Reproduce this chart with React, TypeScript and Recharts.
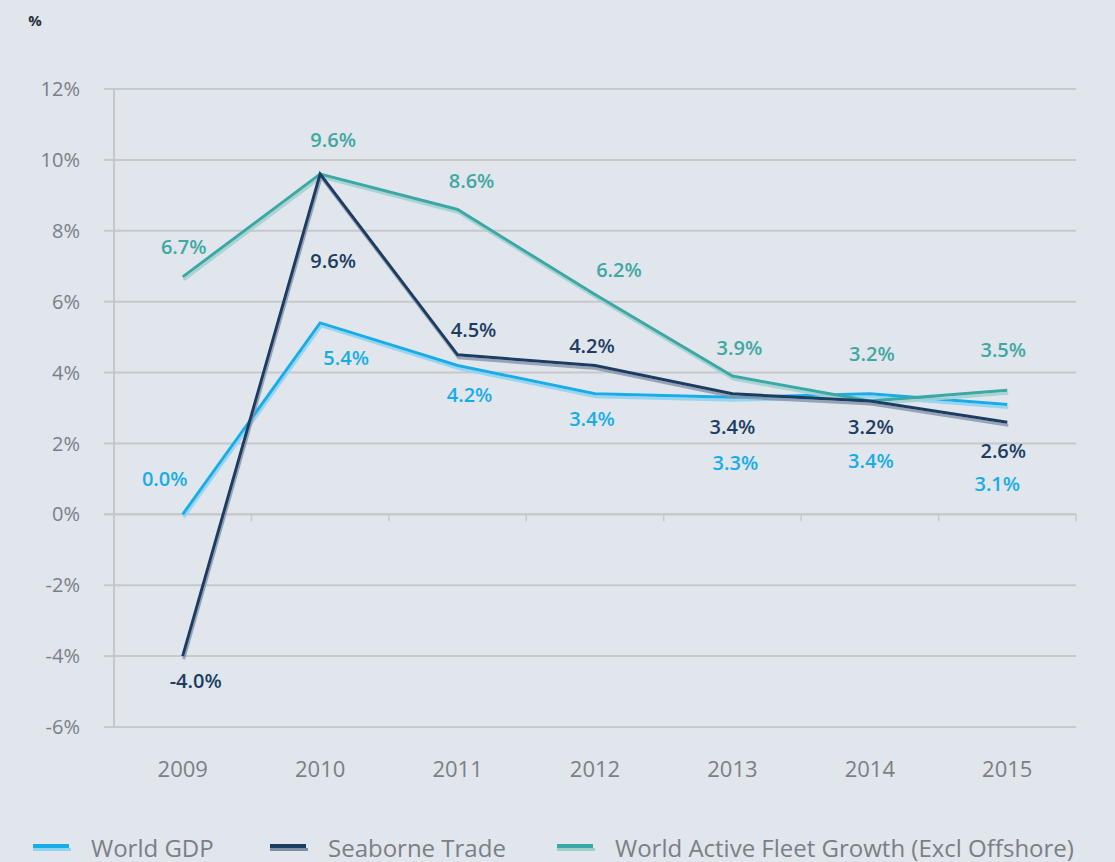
import React from 'react';
import { LineChart, Line, XAxis, YAxis, CartesianGrid, ReferenceLine, Legend } from 'recharts';

// values (% growth)
const years = ['2009', '2010', '2011', '2012', '2013', '2014', '2015'];
const worldGdp = [0.0, 5.4, 4.2, 3.4, 3.3, 3.4, 3.1];
const seaborneTrade = [-4.0, 9.6, 4.5, 4.2, 3.4, 3.2, 2.6];
const fleetGrowth = [6.7, 9.6, 8.6, 6.2, 3.9, 3.2, 3.5];
const yTicks = [-6, -4, -2, 0, 2, 4, 6, 8, 10, 12];

// label nudges (px) so the value labels sit like the original
const gdpLabelOffsets = [[-18, -36], [26, 35], [12, 29], [-3, 25], [3, 65], [1, 67], [-10, 79]];
const tradeLabelOffsets = [[13, 24], [13, 86], [16, -25], [-3, -20], [0, 33], [1, 26], [-4, 28]];
const fleetLabelOffsets = [[1, -30], [13, -35], [14, -29], [24, -25], [7, -29], [2, -47], [-4, -41]];

const data = years.map((year, i) => ({
  year,
  gdp: worldGdp[i],
  trade: seaborneTrade[i],
  fleet: fleetGrowth[i],
}));

const FONT = '"Open Sans", "DejaVu Sans", sans-serif';
const GDP_COLOR = '#17ade8';
const TRADE_COLOR = '#1c3d63';
const FLEET_COLOR = '#3aa8a6';
const GRID_COLOR = '#c6c8cb';
const TEXT_GREY = '#7b7f86';

const makeLabel = (color: string, offsets: number[][]) => (props: any) => {
  const { x, y, value, index } = props;
  const [dx, dy] = offsets[index] || [0, 0];
  return (
    <text
      x={x + dx}
      y={y + dy}
      fill={color}
      fontSize={20}
      fontWeight={600}
      fontFamily={FONT}
      textAnchor="middle"
      dominantBaseline="central"
    >
      {value.toFixed(1)}%
    </text>
  );
};

// zero line with small tick marks at the category boundaries
const ZeroLine = (props: any) => {
  const { x1, x2, y1 } = props;
  const step = (x2 - x1) / years.length;
  const ticks = [];
  for (let i = 1; i <= years.length; i++) {
    ticks.push(<line key={i} x1={x1 + step * i} x2={x1 + step * i} y1={y1} y2={y1 + 7} stroke={GRID_COLOR} strokeWidth={1.5} />);
  }
  return (
    <g>
      <line x1={x1 - 10} x2={x2} y1={y1} y2={y1} stroke={GRID_COLOR} strokeWidth={2} />
      {ticks}
    </g>
  );
};

const legendItems = [
  { name: 'World GDP', color: GDP_COLOR, shade: '#8fd3f2', width: 237 },
  { name: 'Seaborne Trade', color: TRADE_COLOR, shade: '#7d8ea5', width: 287 },
  { name: 'World Active Fleet Growth (Excl Offshore)', color: FLEET_COLOR, shade: '#9dcfcf', width: 540 },
];

const renderLegend = () => (
  <div style={{ display: 'flex', alignItems: 'center', height: 75, paddingTop: 46, boxSizing: 'border-box', paddingLeft: 33 }}>
    {legendItems.map((item) => (
      <div key={item.name} style={{ display: 'flex', alignItems: 'center', width: item.width, flex: 'none' }}>
        <svg width={40} height={10} style={{ marginRight: 18 }}>
          <rect x={0} y={1} width={36} height={4} fill={item.color} />
          <rect x={0} y={5} width={38} height={3} fill={item.shade} />
        </svg>
        <span style={{ fontFamily: FONT, fontSize: 24, color: TEXT_GREY, whiteSpace: 'nowrap' }}>{item.name}</span>
      </div>
    ))}
  </div>
);

const App: React.FC = () => {
  return (
    <div style={{ position: 'absolute', left: 0, top: 0, width: 1115, height: 862, background: '#e1e5ec' }}>
      <LineChart width={1115} height={862} data={data} margin={{ top: 89, right: 39, left: 0, bottom: 0 }}>
        <defs>
          <filter id="shGdp" x="-10%" y="-10%" width="120%" height="130%">
            <feDropShadow dx={1} dy={3} stdDeviation={0.6} floodColor="#8fd3f2" floodOpacity={0.9} />
          </filter>
          <filter id="shTrade" x="-10%" y="-10%" width="120%" height="130%">
            <feDropShadow dx={1} dy={3} stdDeviation={0.6} floodColor="#8493a8" floodOpacity={0.8} />
          </filter>
          <filter id="shFleet" x="-10%" y="-10%" width="120%" height="130%">
            <feDropShadow dx={1} dy={3} stdDeviation={0.6} floodColor="#a3d2d1" floodOpacity={0.9} />
          </filter>
        </defs>
        <CartesianGrid vertical={false} stroke={GRID_COLOR} strokeWidth={2} />
        <XAxis
          dataKey="year"
          scale="band"
          height={60}
          axisLine={false}
          tickLine={false}
          tickMargin={28}
          tick={{ fill: TEXT_GREY, fontSize: 22, fontFamily: FONT }}
        />
        <YAxis
          width={114}
          domain={[-6, 12]}
          ticks={yTicks}
          interval={0}
          tickFormatter={(v) => `${v}%`}
          axisLine={{ stroke: GRID_COLOR, strokeWidth: 2 }}
          tickLine={{ stroke: GRID_COLOR, strokeWidth: 2 }}
          tickSize={10}
          tickMargin={24}
          tick={{ fill: TEXT_GREY, fontSize: 20, fontFamily: FONT }}
          label={{
            content: () => (
              <text x={35} y={20} fill="#2b2f3a" fontSize={15} fontWeight={700} fontFamily={FONT} textAnchor="middle" dominantBaseline="central">
                %
              </text>
            ),
          }}
        />
        <ReferenceLine y={0} shape={ZeroLine} />
        <Legend verticalAlign="bottom" align="left" content={renderLegend} />
        <Line
          dataKey="gdp"
          name="World GDP"
          stroke={GDP_COLOR}
          strokeWidth={3}
          dot={false}
          filter="url(#shGdp)"
          label={makeLabel(GDP_COLOR, gdpLabelOffsets)}
          isAnimationActive={false}
        />
        <Line
          dataKey="fleet"
          name="World Active Fleet Growth (Excl Offshore)"
          stroke={FLEET_COLOR}
          strokeWidth={3}
          dot={false}
          filter="url(#shFleet)"
          label={makeLabel('#3fa8a3', fleetLabelOffsets)}
          isAnimationActive={false}
        />
        <Line
          dataKey="trade"
          name="Seaborne Trade"
          stroke={TRADE_COLOR}
          strokeWidth={3}
          dot={false}
          filter="url(#shTrade)"
          label={makeLabel(TRADE_COLOR, tradeLabelOffsets)}
          isAnimationActive={false}
        />
      </LineChart>
    </div>
  );
};

export default App;
